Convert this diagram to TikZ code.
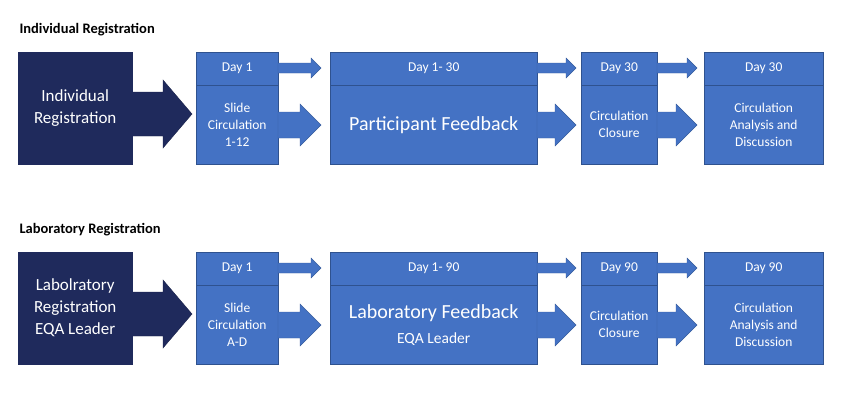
\documentclass[tikz,border=0pt]{standalone}
\usepackage{fontspec}
\setmainfont{Carlito}
\usepackage{tikz}
\definecolor{boxblue}{HTML}{4472C4}
\definecolor{boxedge}{HTML}{2F528F}
\definecolor{navy}{HTML}{1F2A5C}
\tikzset{
    box/.style={draw=boxedge, fill=boxblue, text=white, anchor=north west, inner sep=0pt, align=center, font=\fontsize{13.5}{17}\selectfont},
    regbox/.style={draw=navy, fill=navy, text=white, anchor=north west, inner sep=0pt, align=center, font=\fontsize{17}{22}\selectfont},
    title/.style={anchor=west, font=\bfseries\fontsize{14.5}{17}\selectfont},
    blockarrow/.style={fill=#1, draw=#1!80!black, line width=0.4pt},
}
% x0 tip y shaft-half head-half head-length colour
\newcommand\blkarrow[7]{%
    \draw[blockarrow=#7] (#1,#3-#4) -- (#2-#6,#3-#4) -- (#2-#6,#3-#5) -- (#2,#3)
        -- (#2-#6,#3+#5) -- (#2-#6,#3+#4) -- (#1,#3+#4) -- cycle;}

\begin{document}
\begin{tikzpicture}[x=1pt, y=-1pt]
    \useasboundingbox (0,0) rectangle (841,400);
    \foreach \dy/\ttl/\reg/\dayB/\dayC/\slide/\feed in {%
        0/{Individual Registration}/{Individual\\Registration}/{Day 1- 30}/{Day 30}/{Slide\\Circulation\\1-12}/{Participant Feedback},
        200/{Laboratory Registration}/{Labolratory\\Registration\\EQA Leader}/{Day 1- 90}/{Day 90}/{Slide\\Circulation\\A-D}/{Laboratory Feedback\\{\fontsize{15.5}{20}\selectfont EQA Leader}}}{
    \begin{scope}[yshift=-\dy pt]
        \node[title] (ttl) at (16,30) {\ttl};
        \blkarrow{131}{192}{114}{22}{34}{29}{navy}
        \node[regbox, minimum width=114, minimum height=112] (reg) at (18,52) {\reg};
        % day row
        \node[box, minimum width=82, minimum height=33] (d1) at (196,52) {Day 1};
        \node[box, minimum width=207, minimum height=33] (d2) at (330,52) {\dayB};
        \node[box, minimum width=76, minimum height=33] (d3) at (581,52) {\dayC};
        \node[box, minimum width=119, minimum height=33] (d4) at (704,52) {\dayC};
        % content row
        \node[box, minimum width=82, minimum height=79] (c1) at (196,85) {\slide};
        \node[box, minimum width=207, minimum height=79, font=\fontsize{20}{25}\selectfont] (c2) at (330,85) {\feed};
        \node[box, minimum width=76, minimum height=79] (c3) at (581,85) {Circulation\\Closure};
        \node[box, minimum width=119, minimum height=79] (c4) at (704,85) {Circulation\\Analysis and\\Discussion};
        % arrows between columns
        \foreach \a/\b in {278/321, 537/576, 657/697}{
            \blkarrow{\a}{\b}{68}{5}{10}{10}{boxblue}
            \blkarrow{\a}{\b}{125}{13}{21}{21}{boxblue}
        }
    \end{scope}
    }
\end{tikzpicture}
\end{document}
